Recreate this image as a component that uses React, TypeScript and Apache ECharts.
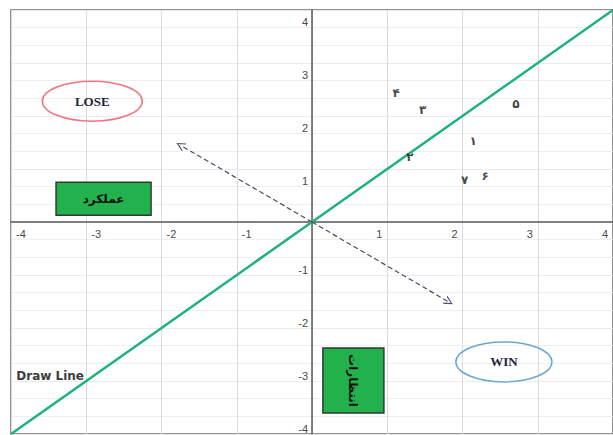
import React, { useEffect, useRef } from "react";
import * as echarts from "echarts";

// ---- data ----
const xTickValues = [-4, -3, -2, -1, 1, 2, 3, 4];
const yTickValues = [4, 3, 2, 1, -1, -2, -3, -4];
const pointLabels = ["۱", "۲", "۳", "۴", "۵", "۶", "۷"];
const pointX = [2.14, 1.3, 1.47, 1.12, 2.71, 2.3, 2.03];
const pointY = [1.53, 1.23, 2.11, 2.43, 2.23, 0.87, 0.79];
const drawLineX = [-4, 4];
const drawLineY = [-4, 4];
const arrowEndX = [-1.75, 1.82];
const arrowEndY = [1.45, -1.51];
const loseCenter = [-2.92, 2.28];
const winCenter = [2.55, -2.64];
const performanceBoxCenter = [-2.77, 0.44];
const expectationBoxCenter = [0.55, -2.99];
const drawLineLabelPos = [-3.93, -2.9];

const arrowPath = "path://M5,0 L10,10 L8.6,10 L5,2.6 L1.4,10 L0,10 Z";

export default function App() {
  const ref = useRef<HTMLDivElement>(null);

  useEffect(() => {
    if (!ref.current) return;
    const chart = echarts.init(ref.current, null, { renderer: "svg" });
    const labelFont = "'Liberation Sans', Arial, sans-serif";

    chart.setOption({
      animation: false,
      backgroundColor: "#ffffff",
      grid: {
        left: 11,
        top: 10,
        width: 608,
        height: 424,
        show: true,
        borderColor: "#6e6e6e",
        borderWidth: 1.5,
        backgroundColor: "transparent",
      },
      xAxis: {
        type: "value",
        min: -4,
        max: 4,
        interval: 1,
        axisLine: { onZero: true, lineStyle: { color: "#5a5a5a", width: 1.5 } },
        axisTick: { show: false },
        axisLabel: { show: false },
        splitLine: { show: true, lineStyle: { color: "#dadada", width: 1 } },
      },
      yAxis: {
        type: "value",
        min: -4,
        max: 4,
        interval: 1,
        axisLine: { onZero: true, lineStyle: { color: "#5a5a5a", width: 1.5 } },
        axisTick: { show: false },
        axisLabel: { show: false },
        splitLine: { show: true, lineStyle: { color: "#ebebeb", width: 1 } },
        minorTick: { show: false, splitNumber: 3 },
        minorSplitLine: { show: true, lineStyle: { color: "#efefef", width: 1 } },
      },
      series: [
        {
          name: "Draw Line",
          type: "line",
          data: drawLineX.map((x, i) => [x, drawLineY[i]]),
          symbol: "none",
          lineStyle: { color: "#1fb27a", width: 2.5 },
          z: 3,
        },
        {
          name: "arrows",
          type: "line",
          data: [],
          markLine: {
            silent: true,
            symbol: ["none", arrowPath],
            symbolSize: [9, 9],
            label: { show: false },
            lineStyle: { type: [5, 3], color: "#4a4a68", width: 1.2 },
            data: arrowEndX.map((x, i) => [
              { coord: [0, 0] },
              { coord: [x, arrowEndY[i]] },
            ]),
          },
        },
        {
          name: "points",
          type: "scatter",
          symbolSize: 1,
          itemStyle: { color: "rgba(0,0,0,0)" },
          data: pointX.map((x, i) => ({ name: pointLabels[i], value: [x, pointY[i]] })),
          label: {
            show: true,
            position: "inside",
            formatter: "{b}",
            color: "#141414",
            fontSize: 12,
            fontWeight: "bold",
            fontFamily: "'DejaVu Sans', sans-serif",
          },
          z: 4,
        },
      ],
    });

    const px = (p: number[]) => chart.convertToPixel({ gridIndex: 0 }, p) as number[];
    const graphic: any[] = [];

    // tick labels
    xTickValues.forEach((v) => {
      const [x, y] = px([v, 0]);
      graphic.push({
        type: "text",
        x: x + (v < 0 ? 10 : -8),
        y: y + 12,
        style: {
          text: String(v),
          fill: "#4a4a4a",
          fontSize: 11,
          fontFamily: labelFont,
          align: "center",
          verticalAlign: "middle",
        },
      });
    });
    yTickValues.forEach((v) => {
      const [x, y] = px([0, v]);
      graphic.push({
        type: "text",
        x: x - 4,
        y: y + (v > 0 ? 12 : -5),
        style: {
          text: String(v),
          fill: "#4a4a4a",
          fontSize: 11,
          fontFamily: labelFont,
          align: "right",
          verticalAlign: "middle",
        },
      });
    });

    // LOSE ellipse
    const [lx, ly] = px(loseCenter);
    graphic.push({
      type: "ellipse",
      shape: { cx: lx, cy: ly, rx: 50, ry: 20 },
      style: { fill: "none", stroke: "#f07482", lineWidth: 1.5 },
    });
    graphic.push({
      type: "text",
      x: lx,
      y: ly,
      style: {
        text: "LOSE",
        fill: "#1e2440",
        fontSize: 13,
        fontWeight: "bold",
        fontFamily: "'Liberation Serif', serif",
        align: "center",
        verticalAlign: "middle",
      },
    });

    // WIN ellipse
    const [wx, wy] = px(winCenter);
    graphic.push({
      type: "ellipse",
      shape: { cx: wx, cy: wy, rx: 48, ry: 20 },
      style: { fill: "none", stroke: "#6aaad2", lineWidth: 1.5 },
    });
    graphic.push({
      type: "text",
      x: wx,
      y: wy,
      style: {
        text: "WIN",
        fill: "#1e2440",
        fontSize: 13,
        fontWeight: "bold",
        fontFamily: "'Liberation Serif', serif",
        align: "center",
        verticalAlign: "middle",
      },
    });

    // performance box
    const [bx, by] = px(performanceBoxCenter);
    graphic.push({
      type: "rect",
      shape: { x: bx - 47.5, y: by - 16.5, width: 95, height: 33 },
      style: { fill: "#22b14c", stroke: "#2f3a31", lineWidth: 1.5 },
    });
    graphic.push({
      type: "text",
      x: bx,
      y: by,
      style: {
        text: "عملکرد",
        fill: "#111111",
        fontSize: 12,
        fontWeight: "bold",
        fontFamily: "'DejaVu Sans', sans-serif",
        align: "center",
        verticalAlign: "middle",
      },
    });

    // expectations box
    const [ex, ey] = px(expectationBoxCenter);
    graphic.push({
      type: "rect",
      shape: { x: ex - 30.5, y: ey - 32.5, width: 61, height: 65 },
      style: { fill: "#22b14c", stroke: "#2f3a31", lineWidth: 1.5 },
    });
    graphic.push({
      type: "text",
      x: ex,
      y: ey,
      rotation: -Math.PI / 2,
      style: {
        text: "انتظارات",
        fill: "#111111",
        fontSize: 12,
        fontWeight: "bold",
        fontFamily: "'DejaVu Sans', sans-serif",
        align: "center",
        verticalAlign: "middle",
      },
    });

    // Draw Line label
    const [dx, dy] = px(drawLineLabelPos);
    graphic.push({
      type: "text",
      x: dx,
      y: dy,
      style: {
        text: "Draw Line",
        fill: "#3c3c3c",
        fontSize: 12,
        fontWeight: "bold",
        fontFamily: "'DejaVu Sans', sans-serif",
        align: "left",
        verticalAlign: "middle",
      },
    });

    chart.setOption({ graphic });

    return () => chart.dispose();
  }, []);

  return (
    <div
      ref={ref}
      style={{ position: "fixed", left: 0, top: 0, width: 613, height: 435, background: "#fff" }}
    />
  );
}
